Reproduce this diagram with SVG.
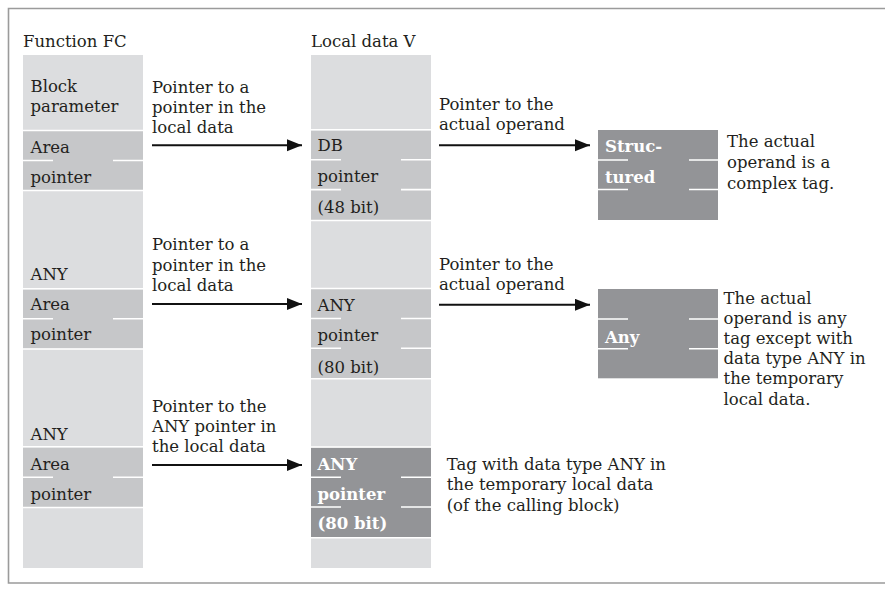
<svg xmlns="http://www.w3.org/2000/svg" width="885" height="592" viewBox="0 0 885 592">
<style>
text{font-family:"DejaVu Serif","Liberation Serif",serif;font-size:16.5px;fill:#231f20}
.b{font-weight:bold;fill:#ffffff}
.lt{fill:#dcdddf}
.md{fill:#c6c7c9}
.dk{fill:#939497}
.sep{stroke:#ffffff;stroke-width:1.6;fill:none}
.arr{stroke:#111;stroke-width:2;fill:none;marker-end:url(#ah)}
</style>
<defs>
<marker id="ah" markerUnits="userSpaceOnUse" markerWidth="16" markerHeight="14" refX="15" refY="6" orient="auto">
<path d="M0,0 L15,6 L0,12 Z" fill="#111"/>
</marker>
</defs>
<rect width="885" height="592" fill="#ffffff"/>
<path d="M885,8.5 H8.5 V583 H885" fill="none" stroke="#9b9b9b" stroke-width="1.6"/>

<g id="function-fc">
<text x="23" y="47">Function FC</text>
<rect class="lt" x="23" y="55" width="120" height="513"/>
<rect class="md" x="23" y="131" width="120" height="59"/>
<rect class="md" x="23" y="289.5" width="120" height="59"/>
<rect class="md" x="23" y="447.5" width="120" height="59.5"/>
<path class="sep" d="M23,130.5H143 M23,190.5H143 M23,160.5H53 M113,160.5H143 M23,288.8H143 M23,349H143 M23,318.8H53 M113,318.8H143 M23,446.8H143 M23,507.5H143 M23,477.3H53 M113,477.3H143"/>
<text x="30.5" y="91.5">Block</text>
<text x="30.5" y="112">parameter</text>
<text x="30.5" y="153">Area</text>
<text x="30.5" y="182.5">pointer</text>
<text x="30.5" y="280">ANY</text>
<text x="30.5" y="310">Area</text>
<text x="30.5" y="340">pointer</text>
<text x="30.5" y="440">ANY</text>
<text x="30.5" y="470">Area</text>
<text x="30.5" y="499.5">pointer</text>
</g>

<g id="local-data-v">
<text x="311" y="46.5">Local data V</text>
<rect class="lt" x="311" y="55" width="120" height="513"/>
<rect class="md" x="311" y="130.5" width="120" height="89.5"/>
<rect class="md" x="311" y="289" width="120" height="89.3"/>
<rect class="dk" x="311" y="447.5" width="120" height="89.8"/>
<path class="sep" d="M311,129.8H431 M311,220.5H431 M311,159.8H341 M401,159.8H431 M311,189.6H341 M401,189.6H431 M311,288.5H431 M311,378.8H431 M311,318.5H341 M401,318.5H431 M311,348.3H341 M401,348.3H431 M311,447H431 M311,537.8H431 M311,477.3H341 M401,477.3H431 M311,507H341 M401,507H431"/>
<text x="317.5" y="150.7">DB</text>
<text x="317.5" y="181.5">pointer</text>
<text x="317.5" y="212.7">(48 bit)</text>
<text x="317.5" y="310.7">ANY</text>
<text x="317.5" y="341">pointer</text>
<text x="317.5" y="372.5">(80 bit)</text>
<text class="b" x="317.5" y="470">ANY</text>
<text class="b" x="317.5" y="499.5">pointer</text>
<text class="b" x="317.5" y="529.3">(80 bit)</text>
</g>

<g id="operand-structured">
<rect class="dk" x="598" y="130" width="120" height="90"/>
<path class="sep" d="M598,160H628 M689,160H718 M598,189.5H628 M689,189.5H718"/>
<text class="b" x="605" y="151.7">Struc-</text>
<text class="b" x="605" y="182.7">tured</text>
<text x="727" y="147.3">The actual</text>
<text x="727" y="168">operand is a</text>
<text x="727" y="188.7">complex tag.</text>
</g>

<g id="operand-any">
<rect class="dk" x="598" y="289" width="120" height="89.3"/>
<path class="sep" d="M598,319H628 M689,319H718 M598,348.7H628 M689,348.7H718"/>
<text class="b" x="605" y="342.5">Any</text>
<text x="723.5" y="303.5">The actual</text>
<text x="723.5" y="323.7">operand is any</text>
<text x="723.5" y="343.9">tag except with</text>
<text x="723.5" y="364.1">data type ANY in</text>
<text x="723.5" y="384.3">the temporary</text>
<text x="723.5" y="404.5">local data.</text>
</g>

<g id="tag-any-note">
<text x="446.7" y="470">Tag with data type ANY in</text>
<text x="446.7" y="490.3">the temporary local data</text>
<text x="446.7" y="510.6">(of the calling block)</text>
</g>

<g id="connectors">
<line class="arr" x1="152" y1="145.3" x2="302" y2="145.3"/>
<line class="arr" x1="439" y1="145.3" x2="590" y2="145.3"/>
<line class="arr" x1="152" y1="304" x2="302" y2="304"/>
<line class="arr" x1="439" y1="304.8" x2="590" y2="304.8"/>
<line class="arr" x1="152" y1="465" x2="302" y2="465"/>
<text x="152" y="92.7">Pointer to a</text>
<text x="152" y="112.9">pointer in the</text>
<text x="152" y="133.1">local data</text>
<text x="439" y="110">Pointer to the</text>
<text x="439" y="130.2">actual operand</text>
<text x="152" y="250">Pointer to a</text>
<text x="152" y="270.5">pointer in the</text>
<text x="152" y="291">local data</text>
<text x="439" y="270">Pointer to the</text>
<text x="439" y="290.2">actual operand</text>
<text x="152" y="411.7">Pointer to the</text>
<text x="152" y="431.7">ANY pointer in</text>
<text x="152" y="451.7">the local data</text>
</g>
</svg>
